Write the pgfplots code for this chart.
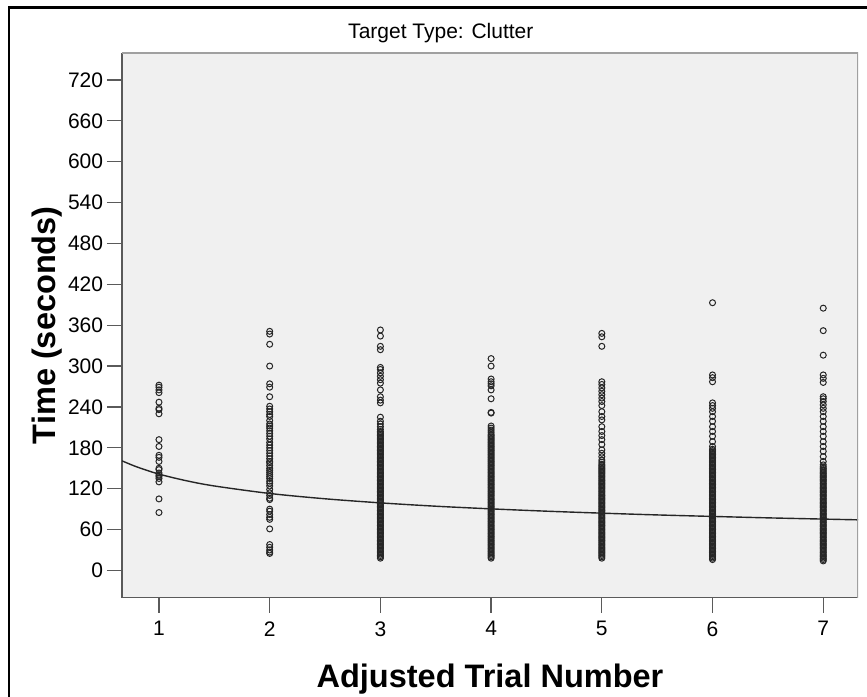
\documentclass[border=0pt]{standalone}
\usepackage{pgfplots}
\pgfplotsset{compat=1.18}
\usepackage{fontspec}
\setmainfont{Liberation Sans}
\definecolor{bgc}{HTML}{F0F0F0}
\definecolor{frameDark}{HTML}{5A5A5A}
\definecolor{frameLight}{HTML}{A0A0A0}
\definecolor{markc}{HTML}{262626}
\begin{document}
\begin{tikzpicture}
\useasboundingbox (0,0) rectangle (867pt,696pt);
\fill[white] (0,0) rectangle (867pt,696pt);
\draw[black, line width=2.6pt] (9pt,-2pt) -- (9pt,688.5pt) -- (870pt,688.5pt);
\begin{axis}[
  at={(122pt,98.3pt)}, anchor=south west,
  width=736pt, height=545pt, scale only axis,
  xmin=0.666, xmax=7.314, ymin=-40, ymax=760,
  xtick={1,2,3,4,5,6,7}, ytick={0,60,...,720},
  axis x line*=bottom, axis y line*=left,
  axis line style={frameDark, line width=1.3pt},
  axis background/.style={fill=bgc},
  tick align=outside, major tick length=15pt,
  tick style={frameDark, line width=1.3pt},
  /pgf/number format/assume math mode=true,
  ticklabel style={font=\fontsize{21}{25}\selectfont, inner sep=0pt},
  yticklabel style={anchor=east, xshift=-3.7pt},
  xticklabel style={anchor=north, yshift=-8.5pt},
  title={Target Type: Clutter},
  title style={at={(rel axis cs:0.4332,1.0154)}, anchor=base, font=\fontsize{21}{25}\selectfont, inner sep=0pt},
  xlabel={Adjusted Trial Number},
  xlabel style={at={(rel axis cs:0.5,-0.1639)}, anchor=base, font=\fontsize{32.5}{38}\selectfont\bfseries, inner sep=0pt},
  ylabel={Time (seconds)},
  ylabel style={at={(rel axis cs:-0.0910,0.5)}, anchor=base, font=\fontsize{32.5}{38}\selectfont\bfseries, inner sep=0pt},
]
\addplot[only marks, mark=o, mark size=3.0pt, mark options={draw=markc, line width=1.0pt}] coordinates {
(1,272)(1,269)(1,265)(1,261)(1,247)(1,238)(1,236)(1,230)(1,192)(1,182)(1,169)(1,166)(1,160)(1,150)(1,148)(1,143)(1,140)(1,138)(1,135)(1,130)(1,105)(1,85)
(2,351)(2,347)(2,332)(2,300)(2,274)(2,269)(2,255)(2,241)(2,237)(2,233)(2,229)(2,226)(2,220)(2,215)(2,212)(2,209)(2,205)(2,201)(2,197)(2,193)(2,188)(2,184)(2,180)(2,176)(2,172)(2,168)(2,164)(2,160)(2,158)(2,154)(2,150)(2,147)(2,144)(2,141)(2,138)(2,135)(2,131)(2,128)(2,124)(2,119)(2,114)(2,110)(2,106)(2,104)(2,90)(2,87)(2,82)(2,78)(2,75)(2,61)(2,38)(2,34)(2,30)(2,27)(2,25)
(3,353)(3,344)(3,329)(3,324)(3,298)(3,295)(3,290)(3,285)(3,280)(3,275)(3,265)(3,255)(3,250)(3,246)(3,225)(3,219)(3,215)(3,211)(3,207)
(3,204)(3,202)(3,200)(3,198)(3,196)(3,194)(3,192)(3,190)(3,188)(3,186)(3,184)(3,182)(3,180)(3,178)(3,176)(3,174)(3,172)(3,170)(3,168)(3,166)(3,164)(3,162)(3,160)(3,158)(3,156)(3,154)(3,152)(3,150)(3,148)(3,146)(3,144)(3,142)(3,140)(3,138)(3,136)(3,134)(3,132)(3,130)(3,128)(3,126)(3,124)(3,122)(3,120)(3,118)(3,116)(3,114)(3,112)(3,110)(3,108)(3,106)(3,104)(3,102)(3,100)(3,98)(3,96)(3,94)(3,92)(3,90)(3,88)(3,86)(3,84)(3,82)(3,80)(3,78)(3,76)(3,74)(3,72)(3,70)(3,68)(3,66)(3,64)(3,62)(3,60)(3,58)(3,56)(3,54)(3,52)(3,50)(3,48)(3,46)(3,44)(3,42)(3,40)(3,38)(3,36)(3,34)(3,32)(3,30)(3,28)(3,26)(3,24)(3,22)(3,20)(3,18)
(4,311)(4,300)(4,281)(4,277)(4,274)(4,271)(4,265)(4,252)(4,232)(4,231)
(4,212)(4,209)(4,206)(4,203)(4,200)(4,198)(4,196)(4,194)(4,192)(4,190)(4,188)(4,186)(4,184)(4,182)(4,180)(4,178)(4,176)(4,174)(4,172)(4,170)(4,168)(4,166)(4,164)(4,162)(4,160)(4,158)(4,156)(4,154)(4,152)(4,150)(4,148)(4,146)(4,144)(4,142)(4,140)(4,138)(4,136)(4,134)(4,132)(4,130)(4,128)(4,126)(4,124)(4,122)(4,120)(4,118)(4,116)(4,114)(4,112)(4,110)(4,108)(4,106)(4,104)(4,102)(4,100)(4,98)(4,96)(4,94)(4,92)(4,90)(4,88)(4,86)(4,84)(4,82)(4,80)(4,78)(4,76)(4,74)(4,72)(4,70)(4,68)(4,66)(4,64)(4,62)(4,60)(4,58)(4,56)(4,54)(4,52)(4,50)(4,48)(4,46)(4,44)(4,42)(4,40)(4,38)(4,36)(4,34)(4,32)(4,30)(4,28)(4,26)(4,24)(4,22)(4,20)(4,18)
(5,348)(5,343)(5,329)(5,277)(5,273)(5,268)(5,263)(5,258)(5,253)(5,248)(5,242)(5,233)(5,226)(5,221)(5,211)(5,204)(5,198)(5,192)(5,185)(5,177)(5,172)(5,167)(5,162)(5,159)
(5,156)(5,154)(5,152)(5,150)(5,148)(5,146)(5,144)(5,142)(5,140)(5,138)(5,136)(5,134)(5,132)(5,130)(5,128)(5,126)(5,124)(5,122)(5,120)(5,118)(5,116)(5,114)(5,112)(5,110)(5,108)(5,106)(5,104)(5,102)(5,100)(5,98)(5,96)(5,94)(5,92)(5,90)(5,88)(5,86)(5,84)(5,82)(5,80)(5,78)(5,76)(5,74)(5,72)(5,70)(5,68)(5,66)(5,64)(5,62)(5,60)(5,58)(5,56)(5,54)(5,52)(5,50)(5,48)(5,46)(5,44)(5,42)(5,40)(5,38)(5,36)(5,34)(5,32)(5,30)(5,28)(5,26)(5,24)(5,22)(5,20)(5,18)
(6,393)(6,287)(6,283)(6,277)(6,246)(6,242)(6,238)(6,233)(6,226)(6,219)(6,211)(6,204)(6,197)(6,189)(6,182)(6,178)
(6,176)(6,174)(6,172)(6,170)(6,168)(6,166)(6,164)(6,162)(6,160)(6,158)(6,156)(6,154)(6,152)(6,150)(6,148)(6,146)(6,144)(6,142)(6,140)(6,138)(6,136)(6,134)(6,132)(6,130)(6,128)(6,126)(6,124)(6,122)(6,120)(6,118)(6,116)(6,114)(6,112)(6,110)(6,108)(6,106)(6,104)(6,102)(6,100)(6,98)(6,96)(6,94)(6,92)(6,90)(6,88)(6,86)(6,84)(6,82)(6,80)(6,78)(6,76)(6,74)(6,72)(6,70)(6,68)(6,66)(6,64)(6,62)(6,60)(6,58)(6,56)(6,54)(6,52)(6,50)(6,48)(6,46)(6,44)(6,42)(6,40)(6,38)(6,36)(6,34)(6,32)(6,30)(6,28)(6,26)(6,24)(6,22)(6,20)(6,18)(6,16)
(7,385)(7,352)(7,316)(7,287)(7,282)(7,276)(7,255)(7,252)(7,248)(7,243)(7,238)(7,233)(7,226)(7,219)(7,211)(7,204)(7,197)(7,189)(7,182)(7,175)(7,167)(7,160)(7,155)
(7,152)(7,150)(7,148)(7,146)(7,144)(7,142)(7,140)(7,138)(7,136)(7,134)(7,132)(7,130)(7,128)(7,126)(7,124)(7,122)(7,120)(7,118)(7,116)(7,114)(7,112)(7,110)(7,108)(7,106)(7,104)(7,102)(7,100)(7,98)(7,96)(7,94)(7,92)(7,90)(7,88)(7,86)(7,84)(7,82)(7,80)(7,78)(7,76)(7,74)(7,72)(7,70)(7,68)(7,66)(7,64)(7,62)(7,60)(7,58)(7,56)(7,54)(7,52)(7,50)(7,48)(7,46)(7,44)(7,42)(7,40)(7,38)(7,36)(7,34)(7,32)(7,30)(7,28)(7,26)(7,24)(7,22)(7,20)(7,18)(7,16)(7,14)
};
\addplot[smooth, color=markc, line width=1.4pt] coordinates {
(0.666,160.9)(0.8,152.0)(1,141.4)(1.25,131.6)(1.5,124.0)(2,113.0)(2.5,105.2)(3,99.2)(3.5,94.3)(4,90.4)(4.5,87.0)(5,84.1)(5.5,81.5)(6,79.3)(6.5,77.2)(7,75.4)(7.314,74.3)
};
\draw[frameLight, line width=1.8pt] (rel axis cs:0,1) -- (rel axis cs:1,1) -- (rel axis cs:1,0);
\end{axis}
\end{tikzpicture}
\end{document}
